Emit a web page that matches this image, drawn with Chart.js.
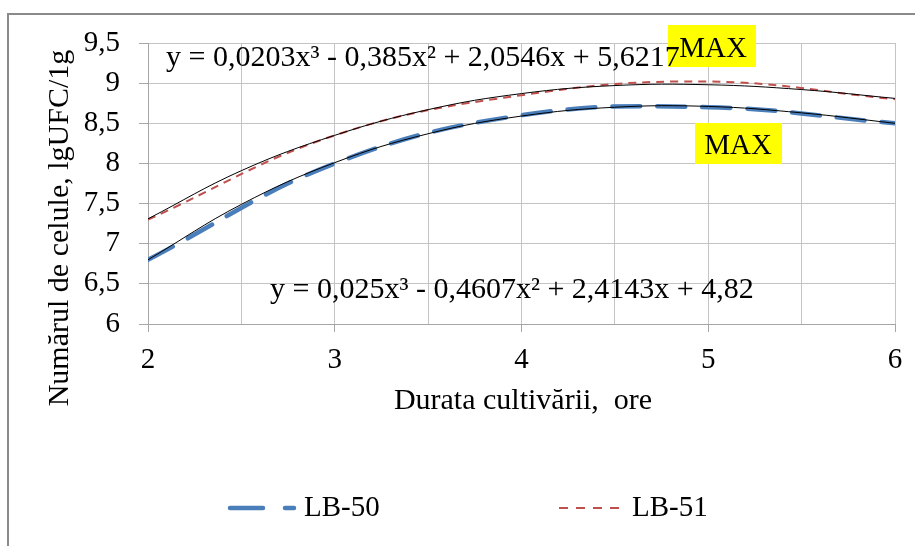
<!DOCTYPE html>
<html>
<head>
<meta charset="utf-8">
<script src="https://cdn.jsdelivr.net/npm/chart.js@4.4.1/dist/chart.umd.min.js"></script>
<style>
html,body{margin:0;padding:0;background:#fff;overflow:hidden;}
#wrap{position:relative;width:915px;height:546px;}
</style>
</head>
<body>
<div id="wrap"><canvas id="c" width="915" height="546"></canvas></div>
<script>
// ---- data ----
const hours = [2, 3, 4, 5, 6];
const lb50 = [6.8, 8.0, 8.6, 8.7, 8.5];
const lb51 = [7.3, 8.35, 8.85, 9.02, 8.8];
const trendHours = [2, 2.5, 3, 3.5, 4, 4.5, 5, 5.5, 6];
const trend50 = [6.80, 7.49, 8.01, 8.37, 8.59, 8.70, 8.71, 8.63, 8.50];
const trend51 = [7.31, 7.91, 8.35, 8.67, 8.87, 8.97, 8.98, 8.92, 8.81];
const seriesNames = ['LB-50', 'LB-51'];
const eq50 = 'y = 0,025x³ - 0,4607x² + 2,4143x + 4,82';
const eq51 = 'y = 0,0203x³ - 0,385x² + 2,0546x + 5,6217';
const xTitle = 'Durata cultivării,  ore';
const yTitle = 'Numărul de celule, lgUFC/1g';
const maxLabel = 'MAX';

const serif = 'Liberation Serif';
const blue = '#4a7ebb';
const red = '#c0504d';
Chart.defaults.font.family = serif;
Chart.defaults.color = '#000';

const decor = {
  id: 'decor',
  beforeDraw(chart) {
    const ctx = chart.ctx;
    ctx.save();
    ctx.fillStyle = '#fff';
    ctx.fillRect(0, 0, chart.width, chart.height);
    ctx.strokeStyle = '#8a8a8a';
    ctx.lineWidth = 2;
    ctx.beginPath();
    ctx.moveTo(8, 546);
    ctx.lineTo(8, 14);
    ctx.lineTo(915, 14);
    ctx.stroke();
    ctx.restore();
  },
  afterDraw(chart) {
    const ctx = chart.ctx;
    ctx.save();
    // MAX boxes
    ctx.fillStyle = '#ffff00';
    ctx.fillRect(668, 25, 88, 42);
    ctx.fillRect(695, 123, 87, 41);
    // equations
    ctx.fillStyle = '#000';
    ctx.textBaseline = 'alphabetic';
    ctx.textAlign = 'left';
    ctx.font = '30px "' + serif + '"';
    ctx.fillText(eq51, 166, 66);
    ctx.fillText(eq50, 270, 298);
    // MAX texts
    ctx.textAlign = 'center';
    ctx.font = '29px "' + serif + '"';
    ctx.fillText(maxLabel, 713, 57);
    ctx.fillText(maxLabel, 738, 154);
    // axis titles
    ctx.font = '30px "' + serif + '"';
    ctx.fillText(xTitle, 523, 409);
    ctx.save();
    ctx.translate(68, 228);
    ctx.rotate(-Math.PI / 2);
    ctx.fillText(yTitle, 0, 0);
    ctx.restore();
    // legend
    const items = [
      {x0: 228, x1: 296, tx: 304, color: blue, w: 4.5, dash: [33, 22], cap: 'round', name: seriesNames[0]},
      {x0: 559, x1: 621, tx: 632, color: red, w: 2, dash: [9, 8], cap: 'butt', name: seriesNames[1]}
    ];
    items.forEach(it => {
      ctx.save();
      ctx.strokeStyle = it.color;
      ctx.lineWidth = it.w;
      ctx.lineCap = it.cap;
      ctx.setLineDash(it.dash);
      ctx.beginPath();
      ctx.moveTo(it.x0 + (it.cap === 'round' ? 2 : 0), 508);
      ctx.lineTo(it.x1 - (it.cap === 'round' ? 2 : 0), 508);
      ctx.stroke();
      ctx.restore();
      ctx.textAlign = 'left';
      ctx.font = '29px "' + serif + '"';
      ctx.fillStyle = '#000';
      ctx.fillText(it.name, it.tx, 516);
    });
    ctx.restore();
  }
};

new Chart(document.getElementById('c'), {
  type: 'line',
  data: {
    datasets: [
      {label: 'Poly. (' + seriesNames[0] + ')', data: trendHours.map((x, i) => ({x: x, y: trend50[i]})),
       borderColor: '#000', borderWidth: 1, pointRadius: 0, tension: 0.4, fill: false, order: 0},
      {label: 'Poly. (' + seriesNames[1] + ')', data: trendHours.map((x, i) => ({x: x, y: trend51[i]})),
       borderColor: '#000', borderWidth: 1, pointRadius: 0, tension: 0.4, fill: false, order: 0},
      {label: seriesNames[0], data: hours.map((x, i) => ({x: x, y: lb50[i]})),
       borderColor: blue, borderWidth: 4.5, borderDash: [28, 17], borderCapStyle: 'round',
       pointRadius: 0, tension: 0.4, fill: false, order: 1},
      {label: seriesNames[1], data: hours.map((x, i) => ({x: x, y: lb51[i]})),
       borderColor: red, borderWidth: 2, borderDash: [8, 6],
       pointRadius: 0, tension: 0.4, fill: false, order: 1}
    ]
  },
  options: {
    responsive: false,
    animation: false,
    devicePixelRatio: 1,
    layout: {padding: {left: 0, right: 20, top: 43, bottom: 0}},
    plugins: {legend: {display: false}, tooltip: {enabled: false}},
    scales: {
      x: {
        type: 'linear', min: 2, max: 6,
        ticks: {
          stepSize: 0.5, autoSkip: false, maxRotation: 0, color: '#000', padding: 11,
          font: {family: serif, size: 29},
          callback: v => Number.isInteger(v) ? String(v) : ''
        },
        grid: {
          color: '#c4c4c4', lineWidth: 1, tickLength: 8,
          tickColor: c => (c.tick && Number.isInteger(c.tick.value)) ? '#a6a6a6' : 'rgba(0,0,0,0)'
        },
        border: {color: '#a6a6a6', width: 1},
        afterFit: s => { s.height = 222; }
      },
      y: {
        min: 6, max: 9.5,
        ticks: {
          stepSize: 0.5, color: '#000', padding: 19,
          font: {family: serif, size: 29},
          callback: v => String(v).replace('.', ',')
        },
        grid: {color: '#c4c4c4', lineWidth: 1, tickLength: 9, tickColor: '#a6a6a6'},
        border: {color: '#a6a6a6', width: 1},
        afterFit: s => { s.width = 148; }
      }
    }
  },
  plugins: [decor]
});
</script>
</body>
</html>
